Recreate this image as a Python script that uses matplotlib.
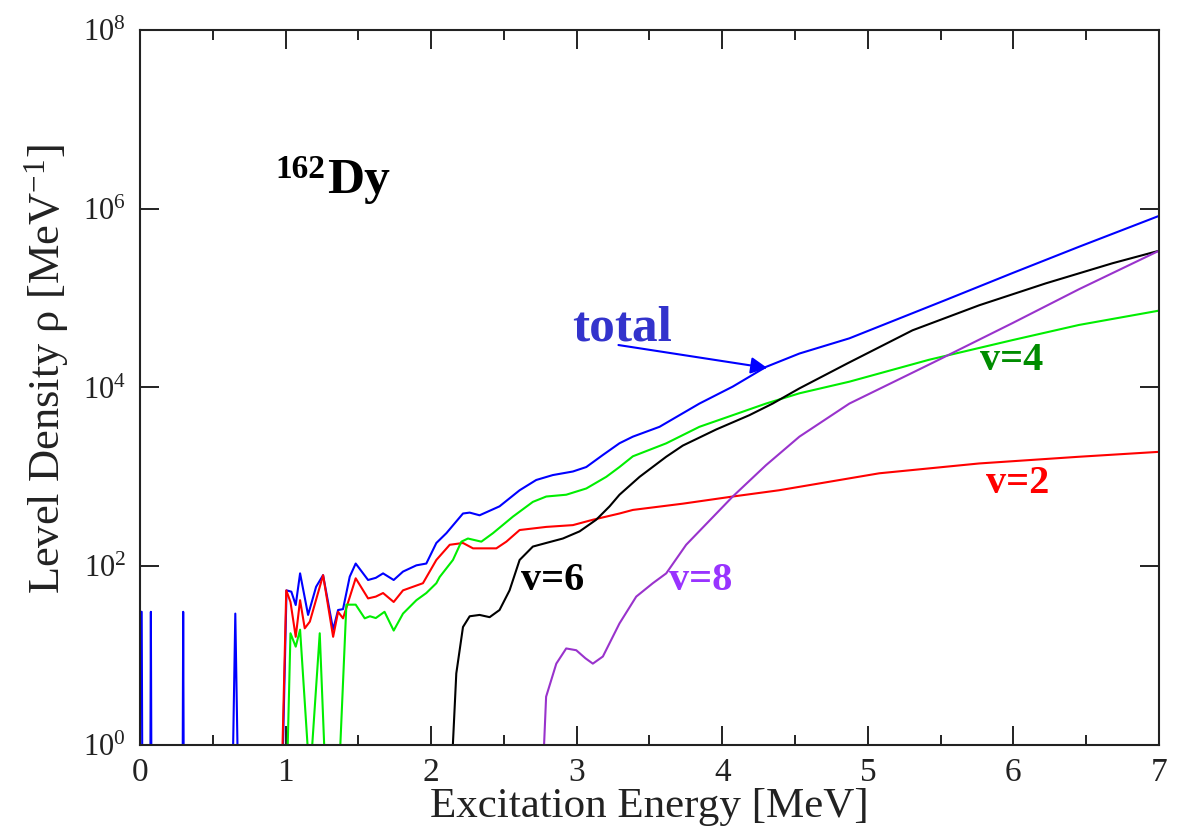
import numpy as np
import matplotlib
matplotlib.use("Agg")
import matplotlib.pyplot as plt
from matplotlib.ticker import FixedLocator, MultipleLocator, NullLocator, LogFormatterSciNotation

plt.rcParams['font.family'] = ['Liberation Serif', 'DejaVu Serif']
plt.rcParams['mathtext.fontset'] = 'custom'
plt.rcParams['mathtext.rm'] = 'Liberation Serif'
plt.rcParams['mathtext.it'] = 'Liberation Serif:italic'
plt.rcParams['mathtext.bf'] = 'Liberation Serif:bold'

# ---- data (energies in MeV, log10 of level density) ----
e_total = [0.0, 0.012, 0.02, 0.068, 0.075, 0.082, 0.29, 0.297, 0.304, 0.62, 0.655, 0.69,
           0.955, 1.007, 1.04, 1.07, 1.10, 1.155, 1.21, 1.258, 1.327, 1.361, 1.395, 1.441,
           1.482, 1.567, 1.62, 1.67, 1.743, 1.807, 1.899, 1.967, 2.036, 2.105, 2.162, 2.219,
           2.265, 2.333, 2.47, 2.608, 2.722, 2.836, 2.974, 3.066, 3.18, 3.294, 3.386, 3.569,
           3.843, 4.072, 4.30, 4.53, 4.873, 5.536, 5.993, 6.451, 7.0]
log_total = [1.49, 1.49, -2, -2, 1.49, -2, -2, 1.49, -2, -2, 1.47, -2,
             -2, 1.73, 1.715, 1.566, 1.92, 1.455, 1.77, 1.90, 1.29, 1.51, 1.52, 1.883,
             2.03, 1.846, 1.87, 1.92, 1.846, 1.94, 2.01, 2.03, 2.26, 2.37, 2.48, 2.59,
             2.60, 2.57, 2.67, 2.85, 2.965, 3.02, 3.06, 3.11, 3.245, 3.376, 3.45, 3.56,
             3.82, 4.01, 4.23, 4.38, 4.55, 4.98, 5.28, 5.575, 5.92]

e_v2 = [0.95, 1.005, 1.034, 1.07, 1.10, 1.132, 1.167, 1.258, 1.327, 1.361, 1.395, 1.482,
        1.567, 1.62, 1.67, 1.743, 1.807, 1.944, 2.036, 2.128, 2.219, 2.288, 2.448, 2.517,
        2.608, 2.791, 2.974, 3.111, 3.294, 3.386, 3.729, 4.072, 4.39, 5.079, 5.765, 6.451, 7.0]
log_v2 = [-2, 1.73, 1.60, 1.21, 1.62, 1.305, 1.38, 1.90, 1.21, 1.49, 1.417, 1.865,
          1.64, 1.66, 1.70, 1.60, 1.73, 1.81, 2.07, 2.24, 2.26, 2.20, 2.20, 2.275,
          2.405, 2.44, 2.46, 2.52, 2.59, 2.63, 2.70, 2.78, 2.85, 3.04, 3.15, 3.225, 3.28]

e_v4 = [0.985, 1.034, 1.07, 1.10, 1.167, 1.235, 1.29, 1.35, 1.418, 1.482, 1.544, 1.58,
        1.62, 1.68, 1.743, 1.807, 1.899, 1.967, 2.036, 2.059, 2.15, 2.208, 2.253, 2.345,
        2.425, 2.562, 2.699, 2.791, 2.928, 3.066, 3.203, 3.294, 3.386, 3.615, 3.843, 4.072,
        4.30, 4.53, 4.873, 5.42, 5.993, 6.451, 7.0]
log_v4 = [-2, 1.25, 1.10, 1.29, -0.4, 1.25, -1, -1, 1.57, 1.57, 1.417, 1.44,
          1.42, 1.49, 1.28, 1.47, 1.62, 1.70, 1.81, 1.88, 2.07, 2.275, 2.31, 2.275,
          2.37, 2.555, 2.72, 2.78, 2.80, 2.87, 3.00, 3.11, 3.23, 3.375, 3.56, 3.69,
          3.82, 3.935, 4.065, 4.31, 4.53, 4.70, 4.86]

e_v6 = [2.12, 2.173, 2.219, 2.265, 2.333, 2.402, 2.47, 2.539, 2.608, 2.699, 2.79, 2.905,
        3.02, 3.134, 3.226, 3.294, 3.432, 3.615, 3.729, 3.958, 4.186, 4.346, 4.53, 4.86,
        5.307, 5.765, 6.222, 6.68, 7.0]
log_v6 = [-1, 0.80, 1.32, 1.44, 1.455, 1.43, 1.51, 1.73, 2.07, 2.22, 2.26, 2.31,
          2.39, 2.52, 2.67, 2.80, 3.00, 3.225, 3.35, 3.53, 3.69, 3.82, 3.99, 4.27,
          4.64, 4.92, 5.165, 5.39, 5.53]

e_v8 = [2.75, 2.79, 2.86, 2.928, 2.997, 3.06, 3.111, 3.18, 3.294, 3.409, 3.523, 3.615,
        3.752, 4.072, 4.30, 4.53, 4.873, 5.45, 5.993, 6.451, 7.0]
log_v8 = [-1, 0.54, 0.91, 1.08, 1.06, 0.97, 0.91, 0.99, 1.36, 1.66, 1.81, 1.92,
          2.24, 2.78, 3.13, 3.45, 3.82, 4.28, 4.72, 5.10, 5.53]

x_ticks = [0, 1, 2, 3, 4, 5, 6, 7]
y_ticks = [1e0, 1e2, 1e4, 1e6, 1e8]

series = [
    (e_total, log_total, '#0000ff'),
    (e_v2, log_v2, '#ff0000'),
    (e_v4, log_v4, '#00ee00'),
    (e_v6, log_v6, '#000000'),
    (e_v8, log_v8, '#9933cc'),
]

fig = plt.figure(figsize=(11.8, 8.27), dpi=100)
ax = fig.add_axes([0.1186, 0.0992, 0.8636, 0.8645])

for e, lg, c in series:
    ax.plot(e, 10.0 ** np.asarray(lg), color=c, lw=1.5)

ax.set_yscale('log')
ax.set_xlim(0, 7)
ax.set_ylim(1, 1e8)
ax.xaxis.set_major_locator(FixedLocator(x_ticks))
ax.xaxis.set_minor_locator(MultipleLocator(0.5))
ax.yaxis.set_major_locator(FixedLocator(y_ticks))
ax.yaxis.set_minor_locator(NullLocator())
ax.yaxis.set_major_formatter(LogFormatterSciNotation())

ax.tick_params(which='both', direction='in', top=True, right=True, width=1.4, colors='#222222')
ax.tick_params(which='major', length=14)
ax.tick_params(axis='x', which='major', pad=9, labelsize=24)
ax.tick_params(axis='y', which='major', pad=10, labelsize=22)
ax.tick_params(which='minor', length=7)
for s in ax.spines.values():
    s.set_linewidth(1.5)
    s.set_color('#222222')

ax.set_xlabel('Excitation Energy [MeV]', fontsize=31, color='#222222', labelpad=0)
ax.set_ylabel(r'Level Density ρ [MeV$^{\mathdefault{-1}}$]', fontsize=32, color='#222222')
ax.yaxis.set_label_coords(-0.068, 0.525)

# annotations
ax.text(0.933, 10 ** 6.344, '162', fontsize=24, fontweight='bold', va='baseline', ha='left')
ax.text(1.283, 10 ** 6.176, 'Dy', fontsize=37, fontweight='bold', va='baseline', ha='left')
ax.text(2.972, 10 ** 4.53, 'total', fontsize=37, fontweight='bold', color='#3333cc',
        va='baseline', ha='left')
ax.annotate('', xy=(4.31, 10 ** 4.218), xytext=(3.287, 10 ** 4.475),
            arrowprops=dict(arrowstyle='-|>', color='#0000ff', lw=1.5, mutation_scale=25,
                            shrinkA=0, shrinkB=0))
ax.text(5.772, 10 ** 4.196, 'v=4', fontsize=29, fontweight='bold', color='#008c00',
        va='baseline', ha='left')
ax.text(5.81, 10 ** 2.82, 'v=2', fontsize=29, fontweight='bold', color='#ff0000',
        va='baseline', ha='left')
ax.text(2.62, 10 ** 1.734, 'v=6', fontsize=29, fontweight='bold', color='#000000',
        va='baseline', ha='left')
ax.text(3.637, 10 ** 1.734, 'v=8', fontsize=29, fontweight='bold', color='#9933ff',
        va='baseline', ha='left')

fig.savefig('out.png', dpi=100, facecolor='white')
